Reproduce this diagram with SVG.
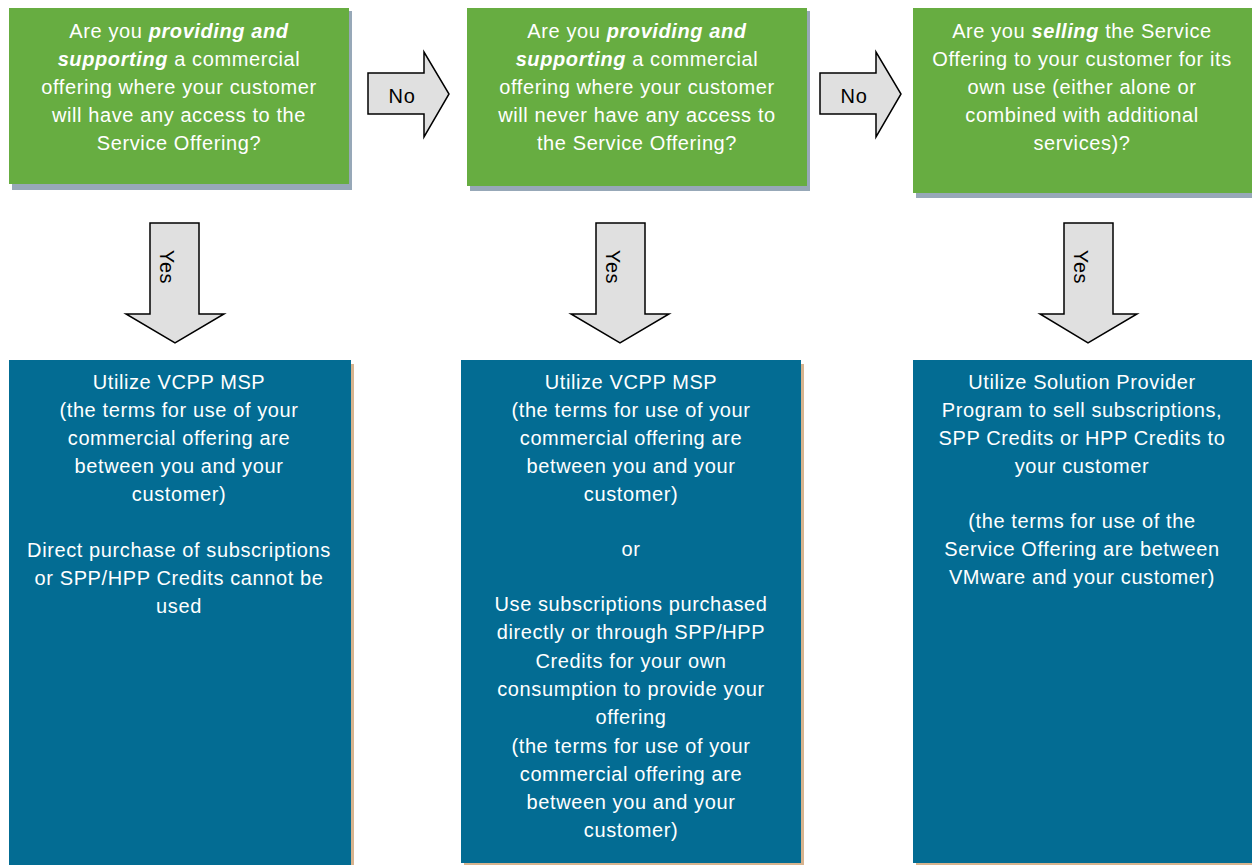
<svg xmlns="http://www.w3.org/2000/svg" width="1252" height="865" viewBox="0 0 1252 865">
<defs>
<style>
.q{fill:#67AD41}
.qs{fill:#97A8B8}
.a{fill:#036C93}
.as{fill:#D7B48F}
.t{font-family:"Liberation Sans",Arial,sans-serif;font-size:20px;letter-spacing:0.6px;fill:#fff;text-anchor:middle}
.ar{fill:#E0E0E0;stroke:#000;stroke-width:1.5;stroke-linejoin:miter}
.al{font-family:"Liberation Sans",Arial,sans-serif;font-size:20px;letter-spacing:0.6px;fill:#000;text-anchor:middle}
</style>
</defs>
<rect width="1252" height="865" fill="#fff"/>
<g id="q1">
<rect class="qs" x="12" y="11" width="340" height="179"/>
<rect class="q" x="9" y="8" width="340" height="176"/>
<text class="t"><tspan x="179" y="38">Are you <tspan font-weight="bold" font-style="italic">providing and</tspan></tspan><tspan x="179" y="66"><tspan font-weight="bold" font-style="italic">supporting</tspan> a commercial</tspan><tspan x="179" y="94">offering where your customer</tspan><tspan x="179" y="122">will have any access to the</tspan><tspan x="179" y="150">Service Offering?</tspan></text>
</g>
<g id="q2">
<rect class="qs" x="470" y="11" width="340" height="180"/>
<rect class="q" x="467" y="8" width="340" height="178"/>
<text class="t"><tspan x="637" y="38">Are you <tspan font-weight="bold" font-style="italic">providing and</tspan></tspan><tspan x="637" y="66"><tspan font-weight="bold" font-style="italic">supporting</tspan> a commercial</tspan><tspan x="637" y="94">offering where your customer</tspan><tspan x="637" y="122">will never have any access to</tspan><tspan x="637" y="150">the Service Offering?</tspan></text>
</g>
<g id="q3">
<rect class="qs" x="916" y="11" width="336" height="187"/>
<rect class="q" x="913" y="8" width="339" height="185"/>
<text class="t"><tspan x="1082" y="38">Are you <tspan font-weight="bold" font-style="italic">selling</tspan> the Service</tspan><tspan x="1082" y="66">Offering to your customer for its</tspan><tspan x="1082" y="94">own use (either alone or</tspan><tspan x="1082" y="122">combined with additional</tspan><tspan x="1082" y="150">services)?</tspan></text>
</g>
<g id="r1">
<rect class="as" x="12" y="364" width="342" height="501"/>
<rect class="a" x="9" y="360" width="342" height="505"/>
<text class="t"><tspan x="179" y="389">Utilize VCPP MSP</tspan><tspan x="179" y="417">(the terms for use of your</tspan><tspan x="179" y="445">commercial offering are</tspan><tspan x="179" y="473">between you and your</tspan><tspan x="179" y="501">customer)</tspan><tspan x="179" y="557">Direct purchase of subscriptions</tspan><tspan x="179" y="585">or SPP/HPP Credits cannot be</tspan><tspan x="179" y="613">used</tspan></text>
</g>
<g id="r2">
<rect class="as" x="464" y="364" width="340" height="501"/>
<rect class="a" x="461" y="360" width="340" height="503"/>
<text class="t"><tspan x="631" y="389">Utilize VCPP MSP</tspan><tspan x="631" y="417">(the terms for use of your</tspan><tspan x="631" y="445">commercial offering are</tspan><tspan x="631" y="473">between you and your</tspan><tspan x="631" y="501">customer)</tspan><tspan x="631" y="556">or</tspan><tspan x="631" y="611">Use subscriptions purchased</tspan><tspan x="631" y="639">directly or through SPP/HPP</tspan><tspan x="631" y="668">Credits for your own</tspan><tspan x="631" y="696">consumption to provide your</tspan><tspan x="631" y="724">offering</tspan><tspan x="631" y="753">(the terms for use of your</tspan><tspan x="631" y="781">commercial offering are</tspan><tspan x="631" y="809">between you and your</tspan><tspan x="631" y="837">customer)</tspan></text>
</g>
<g id="r3">
<rect class="as" x="916" y="364" width="336" height="501"/>
<rect class="a" x="913" y="360" width="339" height="503"/>
<text class="t"><tspan x="1082" y="389">Utilize Solution Provider</tspan><tspan x="1082" y="417">Program to sell subscriptions,</tspan><tspan x="1082" y="445">SPP Credits or HPP Credits to</tspan><tspan x="1082" y="473">your customer</tspan><tspan x="1082" y="528">(the terms for use of the</tspan><tspan x="1082" y="556">Service Offering are between</tspan><tspan x="1082" y="584">VMware and your customer)</tspan></text>
</g>
<g id="connectors">
<g id="no1">
<path class="ar" d="M368,73 H424 V52 L449,94 L424,137 V114 H368 Z"/>
<text class="al" x="402" y="103">No</text>
</g>
<g id="no2">
<path class="ar" d="M820,73 H876 V52 L901,94 L876,137 V114 H820 Z"/>
<text class="al" x="854" y="103">No</text>
</g>
<g id="yes1">
<path class="ar" d="M150,223 H199 V314 H224 L175,343 L126,314 H150 Z"/>
<text class="al" transform="translate(160,267) rotate(90)">Yes</text>
</g>
<g id="yes2">
<path class="ar" d="M596,223 H645 V314 H669 L620,343 L571,314 H596 Z"/>
<text class="al" transform="translate(606,267) rotate(90)">Yes</text>
</g>
<g id="yes3">
<path class="ar" d="M1064,223 H1113 V314 H1137 L1088,343 L1040,314 H1064 Z"/>
<text class="al" transform="translate(1074,267) rotate(90)">Yes</text>
</g>
</g>
</svg>
